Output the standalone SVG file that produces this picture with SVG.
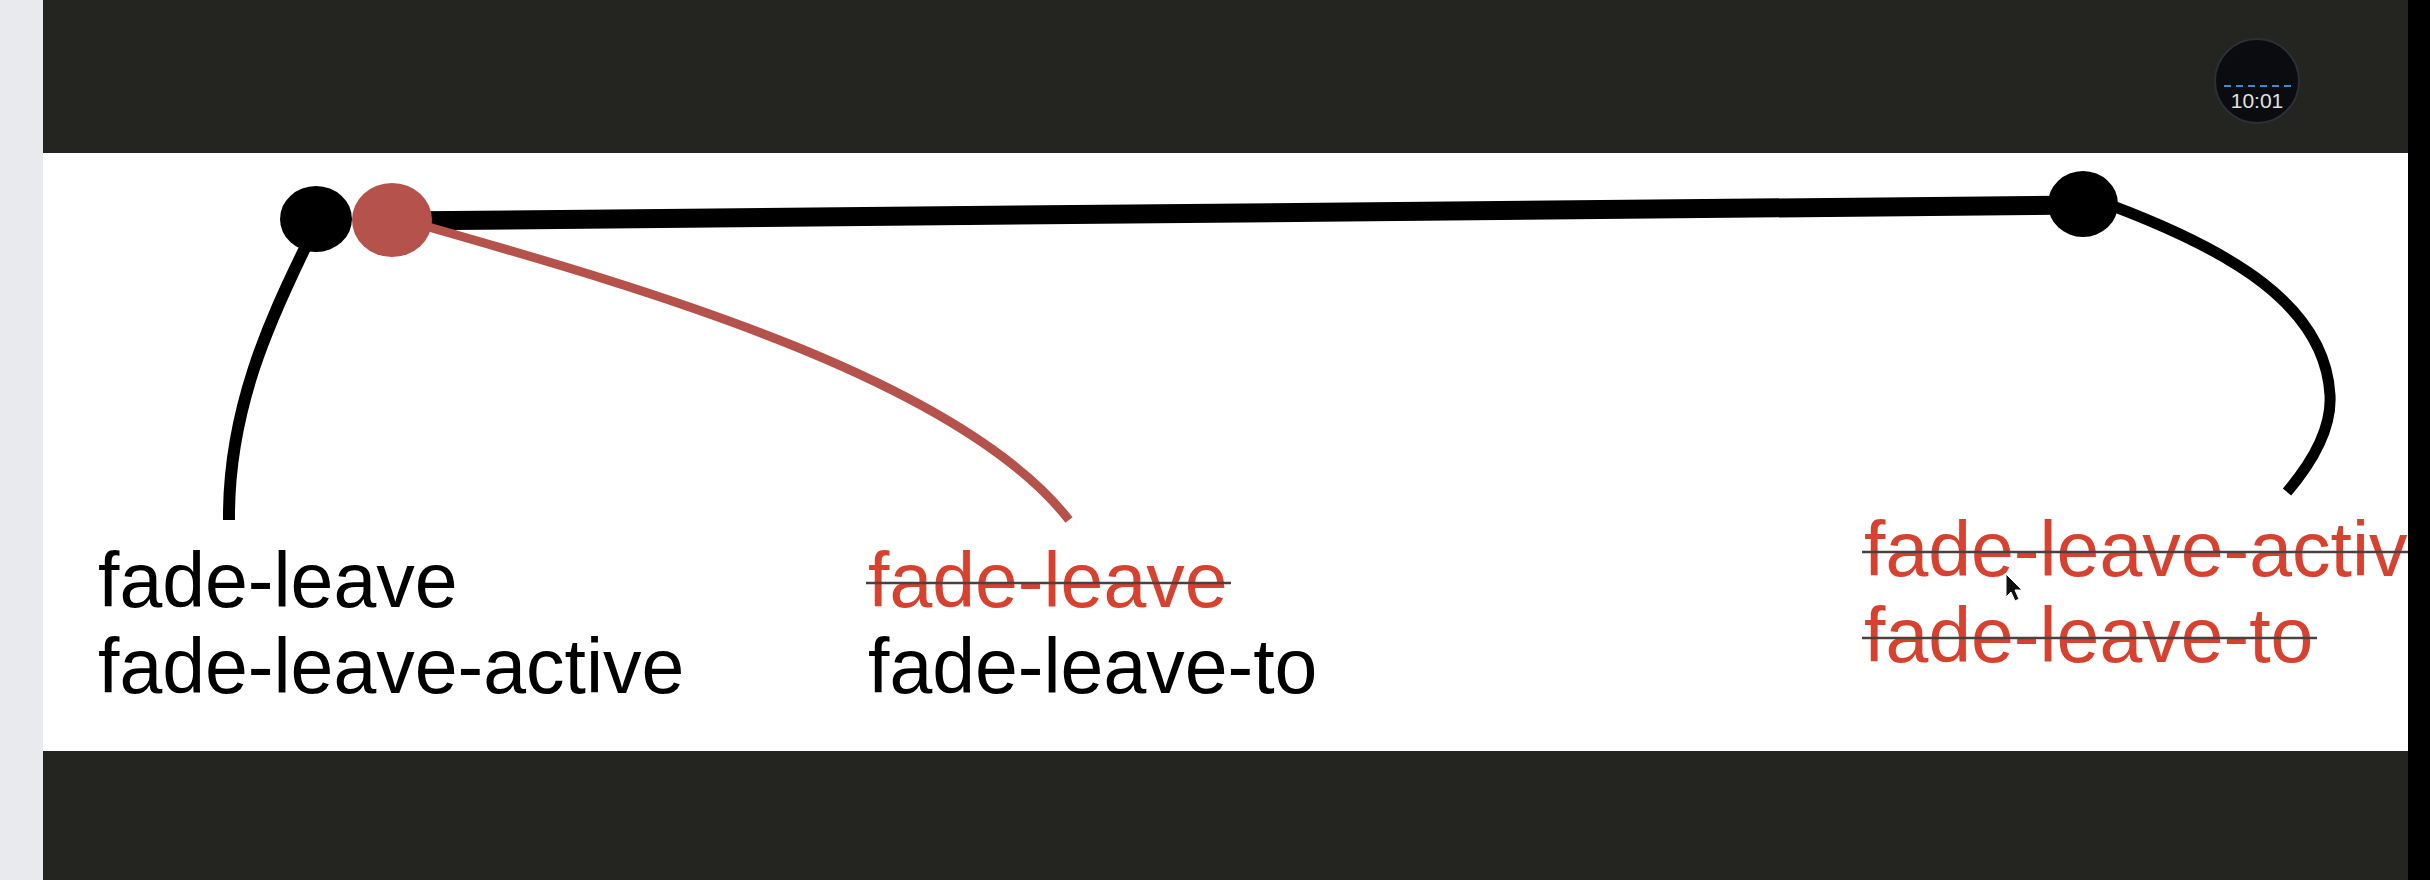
<svg xmlns="http://www.w3.org/2000/svg" width="2430" height="880" viewBox="0 0 2430 880">
<style>
.lbl{font-family:"Liberation Sans",Arial,sans-serif;font-size:77px}
.blk{fill:#000}
.red{fill:#d6422f}
.strike{stroke:#4a4040;stroke-width:2.5}
</style>
<rect x="0" y="0" width="2430" height="880" fill="#242420"/>
<rect x="0" y="0" width="43" height="880" fill="#e9eaee"/>
<rect x="43" y="153" width="2365" height="598" fill="#ffffff"/>
<rect x="2408" y="0" width="22" height="880" fill="#000"/>
<g id="timer">
<circle cx="2257" cy="81" r="42" fill="#0a0c10" stroke="#2c2f36" stroke-width="2"/>
<line x1="2224" y1="86" x2="2292" y2="86" stroke="#3a8ad0" stroke-width="2" stroke-dasharray="7,5"/>
<text x="2257" y="108" text-anchor="middle" font-family="Liberation Sans,Arial,sans-serif" font-size="21" fill="#e0e0e0">10:01</text>
</g>
<g id="connectors" fill="none" stroke-linecap="butt">
<path d="M392 221 L2083 205" stroke="#000" stroke-width="19"/>
<path d="M305 248 C270 320 228 410 229 520" stroke="#000" stroke-width="12"/>
<path d="M425 226 C650 290 960 380 1069 520" stroke="#b5524c" stroke-width="9"/>
<path d="M2110 205 C2230 250 2325 305 2330 395 C2332 430 2310 465 2287 492" stroke="#000" stroke-width="11"/>
</g>
<g id="start-node"><ellipse cx="316" cy="219" rx="36" ry="33" fill="#000"/></g>
<g id="next-frame-node"><ellipse cx="392" cy="220" rx="40" ry="37" fill="#b5524c"/></g>
<g id="end-node"><ellipse cx="2083" cy="204" rx="35" ry="33" fill="#000"/></g>
<g id="label-start">
<text class="lbl blk" x="98" y="607">fade-leave</text>
<text class="lbl blk" x="98" y="693">fade-leave-active</text>
</g>
<g id="label-next">
<text class="lbl red" x="868" y="607">fade-leave</text>
<line class="strike" x1="866" y1="583" x2="1231" y2="583"/>
<text class="lbl blk" x="868" y="693">fade-leave-to</text>
</g>
<g id="label-end">
<text class="lbl red" x="1864" y="576">fade-leave-active</text>
<line class="strike" x1="1862" y1="552" x2="2408" y2="552"/>
<text class="lbl red" x="1864" y="662">fade-leave-to</text>
<line class="strike" x1="1862" y1="638" x2="2317" y2="638"/>
</g>
<rect x="2408" y="150" width="22" height="610" fill="#000"/>
<g id="cursor"><path d="M2006 574 L2006 597 L2011 592 L2015 601 L2019 599 L2015 590 L2022 590 Z" fill="#111" stroke="#fff" stroke-width="1"/></g>
</svg>
